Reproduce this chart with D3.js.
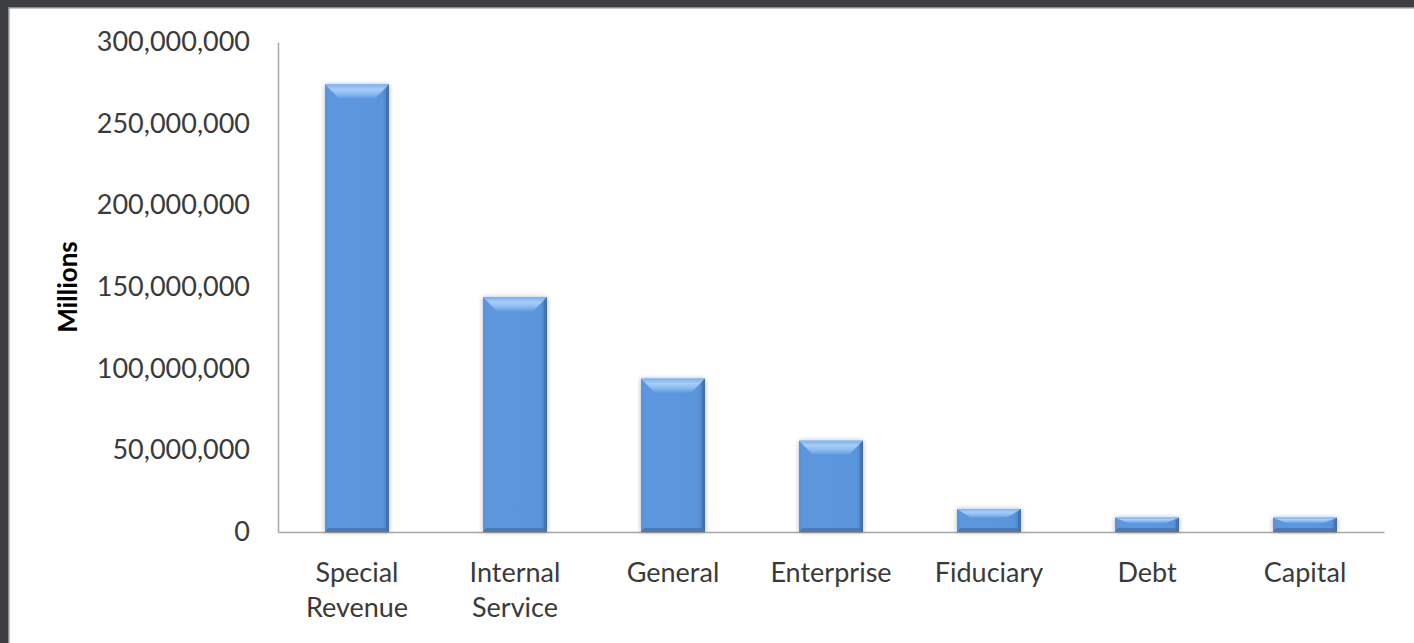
<!DOCTYPE html>
<html>
<head>
<meta charset="utf-8">
<script src="https://cdn.jsdelivr.net/npm/d3@7"></script>
<style>
  html, body { margin: 0; padding: 0; background: #fff; }
  svg { display: block; }
</style>
</head>
<body>
<svg id="chart" width="1414" height="643"></svg>
<script>
const categories = ["Special Revenue", "Internal Service", "General", "Enterprise", "Fiduciary", "Debt", "Capital"];
const values = [274000000, 143700000, 93900000, 55900000, 14100000, 8800000, 8800000];
const yTicks = [0, 50000000, 100000000, 150000000, 200000000, 250000000, 300000000];
const yTitle = "Millions";

const W = 1414, H = 643;
const svg = d3.select("#chart");

// frame
svg.append("rect").attr("x", 0).attr("y", 0).attr("width", W).attr("height", H).attr("fill", "#ffffff");
svg.append("rect").attr("x", 0).attr("y", 0).attr("width", W).attr("height", 7).attr("fill", "#3d3d44");
svg.append("rect").attr("x", 0).attr("y", 0).attr("width", 8).attr("height", H).attr("fill", "#3d3d44");
svg.append("rect").attr("x", 8).attr("y", 7).attr("width", W - 8).attr("height", 1.5).attr("fill", "#8c8c8c");
svg.append("rect").attr("x", 8).attr("y", 7).attr("width", 1.5).attr("height", H - 7).attr("fill", "#8c8c8c");

const x0 = 278, x1 = 1384, yTop = 42, yBot = 532;

const x = d3.scaleBand().domain(categories).range([x0, x1]).paddingInner(0.595).paddingOuter(0.2975);
const y = d3.scaleLinear().domain([0, 300000000]).range([yBot, yTop]);

const defs = svg.append("defs");
const topGrad = defs.append("linearGradient").attr("id", "topGrad").attr("x1", 0).attr("y1", 0).attr("x2", 0).attr("y2", 1);
topGrad.append("stop").attr("offset", "0%").attr("stop-color", "#7fb0ec");
topGrad.append("stop").attr("offset", "35%").attr("stop-color", "#a6cdf7");
topGrad.append("stop").attr("offset", "65%").attr("stop-color", "#8ebcf1");
topGrad.append("stop").attr("offset", "100%").attr("stop-color", "#639be0");
const bodyGrad = defs.append("linearGradient").attr("id", "bodyGrad").attr("x1", 0).attr("y1", 0).attr("x2", 1).attr("y2", 0);
bodyGrad.append("stop").attr("offset", "0%").attr("stop-color", "#5a92d8");
bodyGrad.append("stop").attr("offset", "8%").attr("stop-color", "#5c97de");
bodyGrad.append("stop").attr("offset", "90%").attr("stop-color", "#5a95dc");
bodyGrad.append("stop").attr("offset", "100%").attr("stop-color", "#4878bb");
const shadow = defs.append("filter").attr("id", "shadow").attr("x", "-20%").attr("y", "-20%").attr("width", "140%").attr("height", "140%");
shadow.append("feGaussianBlur").attr("in", "SourceAlpha").attr("stdDeviation", 2.5).attr("result", "b");
shadow.append("feOffset").attr("in", "b").attr("dx", 0).attr("dy", 0).attr("result", "o");
shadow.append("feComponentTransfer").attr("in", "o").attr("result", "s")
  .append("feFuncA").attr("type", "linear").attr("slope", 0.3);
const m = shadow.append("feMerge");
m.append("feMergeNode").attr("in", "s");
m.append("feMergeNode").attr("in", "SourceGraphic");

const font = "Lato, 'Open Sans', sans-serif";

// axes
const yAxis = d3.axisLeft(y).tickValues(yTicks).tickSize(0).tickPadding(28).tickFormat(d3.format(","));
const gy = svg.append("g").attr("transform", `translate(${x0},0)`).call(yAxis);
gy.select(".domain").attr("stroke", "#a6a6a6").attr("stroke-width", 1.5);
gy.selectAll("text").attr("font-family", font).attr("font-size", 27).attr("fill", "#3a3a3a");

const xAxis = d3.axisBottom(x).tickSize(0).tickPadding(0).tickFormat("");
const gx = svg.append("g").attr("transform", `translate(0,${yBot})`).call(xAxis);
gx.select(".domain").attr("stroke", "#a6a6a6").attr("stroke-width", 1.5);

// category labels (wrapped)
const labels = svg.append("g");
categories.forEach(c => {
  const words = c.split(" ");
  const cx = x(c) + x.bandwidth() / 2;
  const t = labels.append("text")
    .attr("x", cx)
    .attr("y", 582)
    .attr("text-anchor", "middle")
    .attr("font-family", font)
    .attr("font-size", 27)
    .attr("fill", "#3a3a3a");
  words.forEach((w, i) => {
    t.append("tspan").attr("x", cx).attr("dy", i === 0 ? 0 : 35).text(w);
  });
});

// y title
svg.append("text")
  .attr("transform", `translate(77,${(yTop + yBot) / 2}) rotate(-90)`)
  .attr("text-anchor", "middle")
  .attr("font-family", font)
  .attr("font-weight", "bold")
  .attr("font-size", 26)
  .attr("fill", "#000")
  .text(yTitle);

// bars
const bars = svg.append("g").selectAll("g").data(categories.map((c, i) => ({ c, v: values[i] }))).join("g");
bars.each(function (d) {
  const g = d3.select(this);
  const bx = x(d.c), bw = x.bandwidth();
  const by = y(d.v), bh = yBot - by;
  const bv = Math.min(14, bh / 2.6);
  const bs = Math.min(14, bw / 4);
  g.append("rect").attr("x", bx).attr("y", by).attr("width", bw).attr("height", bh)
    .attr("fill", "url(#bodyGrad)").attr("filter", "url(#shadow)");
  // top bevel
  g.append("path")
    .attr("d", `M${bx},${by} L${bx + bw},${by} L${bx + bw - bs},${by + bv} L${bx + bs},${by + bv} Z`)
    .attr("fill", "url(#topGrad)");
  // right edge
  g.append("path")
    .attr("d", `M${bx + bw},${by} L${bx + bw},${yBot} L${bx + bw - 3},${yBot - 3} L${bx + bw - 3},${by + Math.min(3, bv)} Z`)
    .attr("fill", "#3f6fae").attr("opacity", 0.75);
  // bottom edge
  g.append("path")
    .attr("d", `M${bx},${yBot} L${bx + bw},${yBot} L${bx + bw - 3},${yBot - 4} L${bx + 3},${yBot - 4} Z`)
    .attr("fill", "#4373b5").attr("opacity", 0.8);
});
</script>
</body>
</html>
